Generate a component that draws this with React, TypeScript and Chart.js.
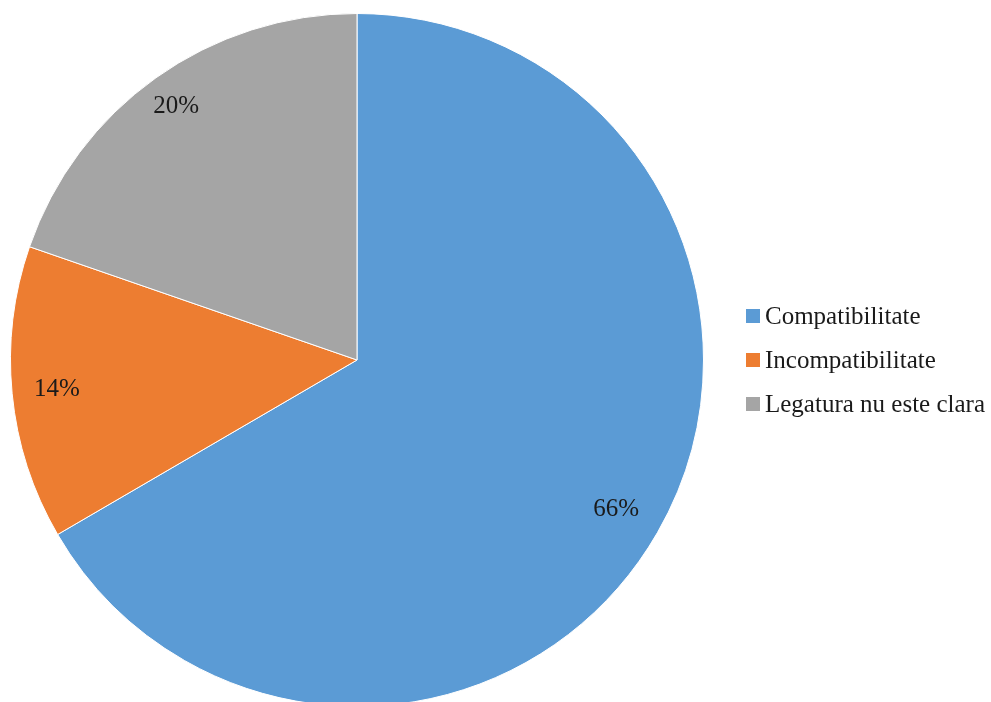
import React, { useEffect, useRef } from "react";
import { Chart, registerables } from "chart.js";

Chart.register(...registerables);

const categories = ["Compatibilitate", "Incompatibilitate", "Legatura nu este clara"];
const values = [66.6, 13.7, 19.7];
const valueLabels = ["66%", "14%", "20%"];
const colors = ["#5B9BD5", "#ED7D31", "#A5A5A5"];
const labelRadius = [0.863, 0.87, 0.9];

const FONT = '"Liberation Serif", "Times New Roman", serif';

const overlayPlugin = {
  id: "overlay",
  afterDraw(chart: any) {
    const ctx = chart.ctx;
    const meta = chart.getDatasetMeta(0);
    ctx.save();
    ctx.font = `25px ${FONT}`;
    ctx.fillStyle = "#1a1a1a";
    ctx.textAlign = "center";
    ctx.textBaseline = "middle";
    meta.data.forEach((arc: any, i: number) => {
      const p = arc.getProps(["x", "y", "startAngle", "endAngle", "outerRadius"], true);
      const mid = (p.startAngle + p.endAngle) / 2;
      const r = p.outerRadius * labelRadius[i];
      ctx.fillText(valueLabels[i], p.x + Math.cos(mid) * r, p.y + Math.sin(mid) * r);
    });
    const lx = 746;
    const ly0 = 316;
    const step = 44;
    ctx.font = `25px ${FONT}`;
    ctx.textAlign = "left";
    categories.forEach((c, i) => {
      const cy = ly0 + i * step;
      ctx.fillStyle = colors[i];
      ctx.fillRect(lx, cy - 7, 14, 14);
      ctx.fillStyle = "#1a1a1a";
      ctx.fillText(c, lx + 19, cy + 1);
    });
    ctx.restore();
  },
};

export default function App() {
  const ref = useRef<HTMLCanvasElement>(null);
  useEffect(() => {
    document.body.style.margin = "0";
    document.body.style.overflow = "hidden";
    const chart = new Chart(ref.current!, {
      type: "pie",
      data: {
        labels: categories,
        datasets: [
          {
            data: values,
            backgroundColor: colors,
            borderColor: "#ffffff",
            borderWidth: 1,
          },
        ],
      },
      options: {
        responsive: false,
        animation: false,
        layout: { padding: { left: 10, top: 13, right: 287, bottom: 13 } },
        plugins: { legend: { display: false }, tooltip: { enabled: false } },
      },
      plugins: [overlayPlugin],
    });
    return () => chart.destroy();
  }, []);
  return (
    <div style={{ position: "fixed", left: 0, top: 0, width: 991, height: 702, overflow: "hidden", background: "#fff" }}>
      <canvas ref={ref} width={991} height={720} style={{ display: "block" }} />
    </div>
  );
}
